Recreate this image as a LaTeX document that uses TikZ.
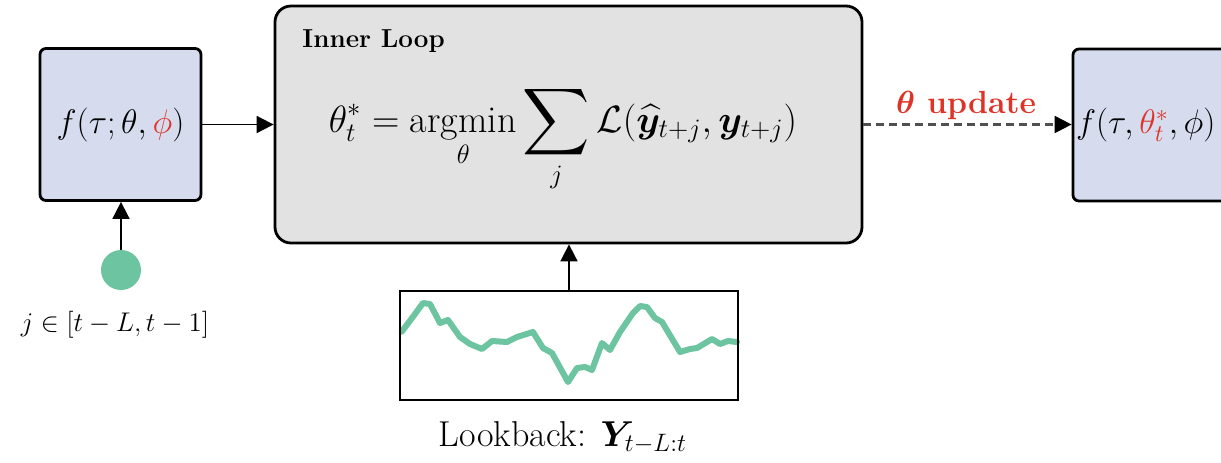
\RequirePackage{fix-cm}
\documentclass[tikz,border=0pt]{standalone}
\usepackage{amsmath}
\usepackage{bm}
\usepackage{fontspec}
\usetikzlibrary{arrows.meta}
\definecolor{boxblue}{RGB}{214,220,238}
\definecolor{innergray}{RGB}{226,226,226}
\definecolor{dotgreen}{RGB}{108,196,160}
\definecolor{upred}{RGB}{222,52,40}
\definecolor{dashgray}{RGB}{80,80,80}
\newcommand{\bigsum}{\mathop{\vcenter{\hbox{\scalebox{1.35}{$\displaystyle\sum$}}}}\limits}
\begin{document}
\begin{tikzpicture}[x=0.5pt,y=-0.5pt,
  fbox/.style={draw=black,line width=1.4pt,fill=boxblue,rounded corners=3pt,
    minimum width=80.5pt,minimum height=76pt,inner sep=0pt},
  innerbox/.style={draw=black,line width=1.4pt,fill=innergray,rounded corners=8pt,
    minimum width=293.5pt,minimum height=118.5pt,inner sep=0pt},
  lookbox/.style={draw=black,line width=1.2pt,fill=white,
    minimum width=169pt,minimum height=54.5pt,inner sep=0pt},
  arr/.style={draw=black,line width=0.9pt,-{Triangle[length=8.5pt,width=8.5pt]}},
  dasharr/.style={draw=dashgray,line width=1.1pt,dash pattern=on 4pt off 2.5pt,
    -{Triangle[length=8.5pt,width=8.5pt,color=black]}},
  wave/.style={draw=dotgreen,line width=3pt,line join=round,line cap=round},
  mathbig/.style={font=\fontsize{17}{20}\selectfont}
]
\useasboundingbox (0,0) rectangle (1221,462);
\clip (0,0) rectangle (1221,462);

% boxes
\node[fbox,mathbig] (left) at (120.5,124.5) {$f(\tau;\theta,{\color{upred}\phi})$};
\node[innerbox] (inner) at (568.5,124.5) {};
\node[fbox] (right) at (1153.5,125) {};
\node[anchor=west,inner sep=0pt,mathbig] (rtext) at ([xshift=2pt]right.west)
  {$f(\tau,{\color{upred}\theta_t^*},\phi)$};
\node[lookbox] (look) at (569,345.5) {};

% inner loop contents
\node[anchor=base west,inner sep=0pt,font=\bfseries\fontsize{13}{16}\selectfont] (title) at (302,47) {Inner Loop};
\node[anchor=base,inner sep=0pt,font=\fontsize{19}{23}\selectfont] (eq) at (563,132)
  {$\displaystyle \theta_t^* = \operatorname*{argmin}_{\theta} \bigsum_j \mathcal{L}(\widehat{\bm{y}}_{t+j}, \bm{y}_{t+j})$};

% green dot and label
\node[circle,fill=dotgreen,minimum size=20pt,inner sep=0pt] (dot) at (121,270) {};
\node[anchor=base,inner sep=0pt,font=\fontsize{13.5}{16}\selectfont] (jlab) at (115,331) {$j \in [t-L, t-1]$};

% lookback series
\draw[wave] plot coordinates {(401.7,331.7) (413,316.7) (423,303) (430,304) (440,323) (448,320)
  (460,337) (470,344) (482,349) (492,341) (507,342) (517,337) (533,332) (543,348) (552,353)
  (568,382) (577,368) (585,367) (592,370) (602,343) (610,350) (620,332) (633,313) (640,306)
  (647,307) (655,318) (662,322) (680,352) (690,349) (697,348) (712,339) (720,344) (728,341) (737,342)};
\node[lookbox,fill=none] at (look.center) {};
\node[anchor=base,inner sep=0pt,font=\fontsize{18}{22}\selectfont] (lbl) at (563,446) {Lookback: $\bm{Y}_{t-L:t}$};

% update label
\node[anchor=base,inner sep=0pt,text=upred,font=\bfseries\fontsize{16}{19}\selectfont] (upd) at (966,113) {$\bm{\theta}$ update};

% connectors
\draw[arr] (left.east) -- (inner.west |- left.east);
\draw[arr] (dot.north) -- (dot.north |- left.south);
\draw[arr] (look.north) -- (look.north |- inner.south);
\draw[dasharr] (inner.east) -- (inner.east -| right.west);
\end{tikzpicture}
\end{document}
